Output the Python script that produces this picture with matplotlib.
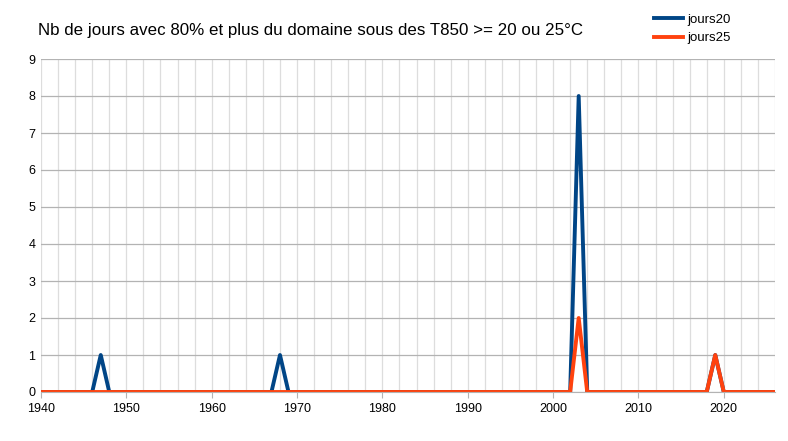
import matplotlib
matplotlib.use("Agg")
from matplotlib import pyplot as plt
from matplotlib.ticker import MultipleLocator

plt.rcParams['font.family'] = ['Liberation Sans', 'DejaVu Sans']

# years 1940..2026, nonzero days only
years = list(range(1940, 2027))
peaks20 = {1947: 1, 1968: 1, 2003: 8, 2019: 1}
peaks25 = {2003: 2, 2019: 1}
jours20 = [peaks20.get(y, 0) for y in years]
jours25 = [peaks25.get(y, 0) for y in years]

fig = plt.figure(figsize=(7.88, 4.41), dpi=100)
ax = fig.add_axes([41/788, 1 - 392/441, (775-41)/788, (392-59)/441])

ax.plot(years, jours20, color='#004586', linewidth=2.8, label='jours20')
ax.plot(years, jours25, color='#ff420e', linewidth=2.8, label='jours25')

ax.set_xlim(1940, 2026)
ax.set_ylim(0, 9)
ax.xaxis.set_major_locator(MultipleLocator(10))
ax.xaxis.set_minor_locator(MultipleLocator(2))
ax.yaxis.set_major_locator(MultipleLocator(1))
ax.grid(which='major', axis='y', color='#b3b3b3', linewidth=0.9)
ax.grid(which='both', axis='x', color='#dddddd', linewidth=0.9)
ax.set_axisbelow(True)
for s in ['top', 'right', 'left']:
    ax.spines[s].set_visible(False)
ax.spines['bottom'].set_color('#b3b3b3')
ax.tick_params(which='both', length=0, labelsize=9, pad=4)
ax.tick_params(axis='x', which='major', length=4, color='#b3b3b3')

fig.text(38/788, 1 - 30/441, "Nb de jours avec 80% et plus du domaine sous des T850 >= 20 ou 25°C",
         fontsize=12.2, va='center', ha='left')
fig.legend(loc='upper left', bbox_to_anchor=(642/788, 1 - 2/441), frameon=False,
           fontsize=9.5, handlelength=2.2, handletextpad=0.3, labelspacing=0.45)

fig.savefig('out.png', dpi=100)
